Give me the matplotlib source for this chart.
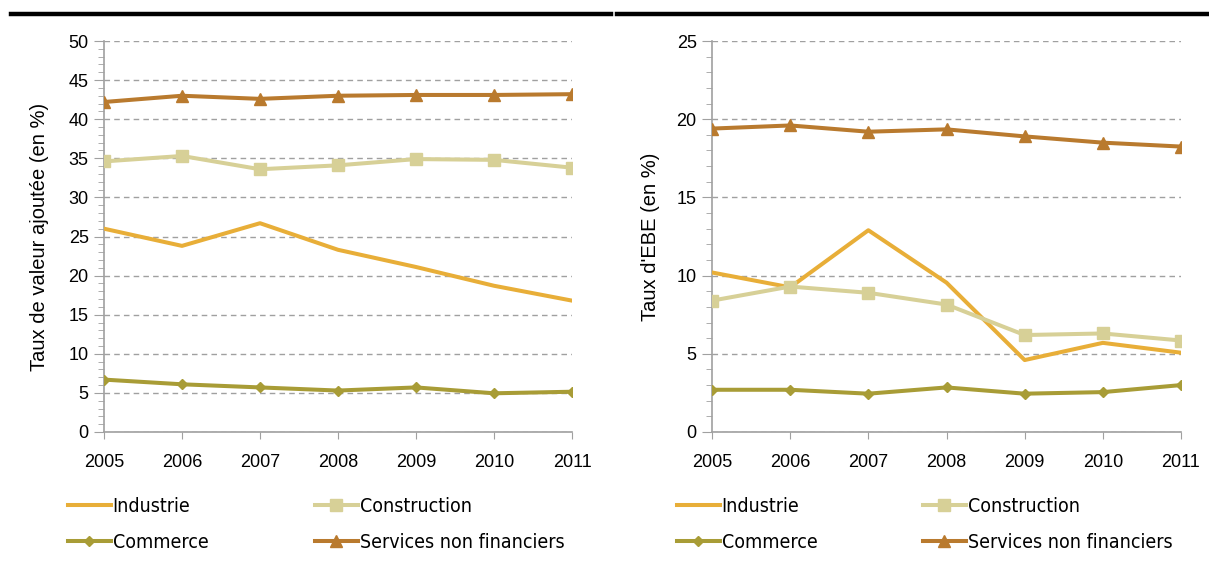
import matplotlib.pyplot as plt
from matplotlib.lines import Line2D
from matplotlib.ticker import MultipleLocator
from matplotlib.font_manager import FontProperties, fontManager

# years and series
years = [2005, 2006, 2007, 2008, 2009, 2010, 2011]

va_industrie = [26.0, 23.8, 26.7, 23.3, 21.1, 18.7, 16.8]
va_construction = [34.6, 35.3, 33.6, 34.1, 34.9, 34.8, 33.8]
va_commerce = [6.7, 6.1, 5.7, 5.3, 5.7, 4.95, 5.15]
va_services = [42.2, 43.0, 42.6, 43.0, 43.1, 43.1, 43.2]

ebe_industrie = [10.2, 9.25, 12.9, 9.55, 4.6, 5.7, 5.07]
ebe_construction = [8.4, 9.3, 8.9, 8.15, 6.2, 6.3, 5.85]
ebe_commerce = [2.7, 2.7, 2.45, 2.85, 2.45, 2.55, 3.0]
ebe_services = [19.4, 19.6, 19.2, 19.35, 18.9, 18.5, 18.25]

labels = ["Industrie", "Construction", "Commerce", "Services non financiers"]

plt.rcParams['font.family'] = ['Liberation Sans', 'DejaVu Sans']

# look for a condensed face for the legend (the original uses a narrow font)
leg_font = FontProperties(family=["DejaVu Sans"], size=14)
for f in fontManager.ttflist:
    if f.stretch in ("condensed", "semi-condensed") and f.style == "normal" \
            and f.weight in (400, "normal", "regular") \
            and f.name in ("DejaVu Sans", "Noto Sans", "Liberation Sans Narrow", "Open Sans"):
        leg_font = FontProperties(fname=f.fname, size=14)
        break

c_ind = "#E8AE38"
c_con = "#D7D097"
c_com = "#A89C36"
c_ser = "#B97A2E"
grey = "#A0A0A0"

W, H = 1209, 573
fig = plt.figure(figsize=(W / 100, H / 100), dpi=100)

# thick black rules under the (cropped) titles
fig.add_artist(Line2D([11 / W, 611 / W], [1 - 14 / H] * 2, color="black", lw=3.2))
fig.add_artist(Line2D([617 / W, 1.0], [1 - 14 / H] * 2, color="black", lw=3.2))


def draw(ax, series, ymax, ylabel):
    ind, con, com, ser = series
    lw = 2.9
    h1, = ax.plot(years, ind, color=c_ind, lw=lw, label=labels[0], zorder=3)
    h2, = ax.plot(years, con, color=c_con, lw=lw, marker="s", ms=8, label=labels[1], zorder=3)
    h3, = ax.plot(years, com, color=c_com, lw=lw, marker="D", ms=5.5, label=labels[2], zorder=3)
    h4, = ax.plot(years, ser, color=c_ser, lw=lw, marker="^", ms=8, label=labels[3], zorder=3)
    ax.set_xlim(2005, 2011)
    ax.set_ylim(0, ymax)
    ax.set_xticks(years)
    ax.yaxis.set_major_locator(MultipleLocator(5))
    ax.yaxis.set_minor_locator(MultipleLocator(1))
    ax.grid(axis="y", which="major", color=grey, ls=(0, (4, 3)), lw=1.0)
    for s in ["top", "right"]:
        ax.spines[s].set_visible(False)
    for s in ["left", "bottom"]:
        ax.spines[s].set_color(grey)
        ax.spines[s].set_linewidth(1.2)
    ax.tick_params(axis="y", which="major", length=7, color=grey, labelsize=13, pad=4)
    ax.tick_params(axis="y", which="minor", length=4, color=grey)
    ax.tick_params(axis="x", length=5, color=grey, labelsize=13, pad=11)
    ax.set_ylabel(ylabel, fontsize=14.5)
    return [h1, h2, h3, h4]


ax1 = fig.add_axes([104 / W, 141 / H, 468 / W, 391 / H])
hs = draw(ax1, [va_industrie, va_construction, va_commerce, va_services], 50,
          "Taux de valeur ajoutée (en %)")
ax1.yaxis.set_label_coords(-0.117, 0.5)

ax2 = fig.add_axes([712 / W, 141 / H, 469 / W, 391 / H])
draw(ax2, [ebe_industrie, ebe_construction, ebe_commerce, ebe_services], 25,
     "Taux d'EBE (en %)")
ax2.yaxis.set_label_coords(-0.111, 0.5)

# two legend columns per panel: (Industrie, Commerce) and (Construction, Services)
for x0 in [68, 315, 677, 923]:
    col = [0, 2] if x0 in (68, 677) else [1, 3]
    fig.legend([hs[i] for i in col], [labels[i] for i in col], loc="upper left",
               bbox_to_anchor=(x0 / W, 1 - 497 / H), ncol=1, frameon=False,
               borderpad=0, borderaxespad=0, handlelength=2.2, handletextpad=0.1,
               labelspacing=0.85, prop=leg_font)

fig.savefig("out.png", dpi=100)
